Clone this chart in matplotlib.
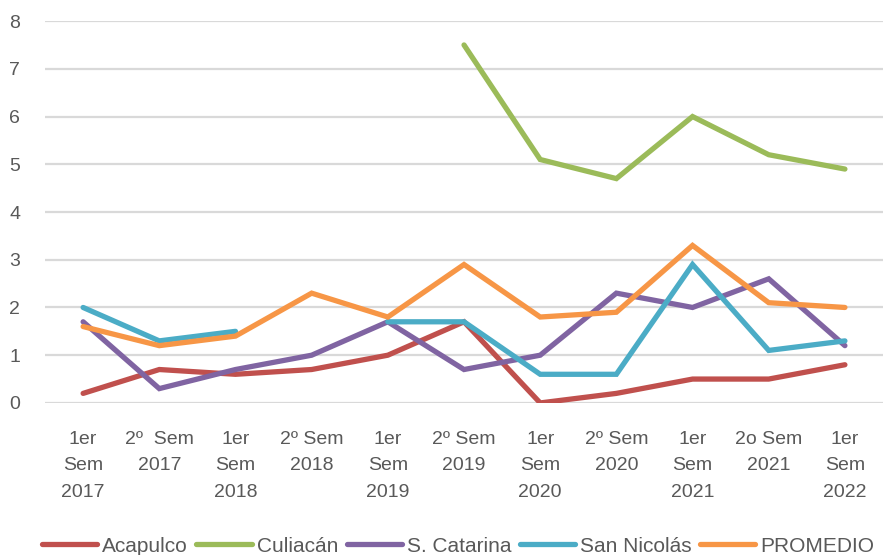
import numpy as np
from matplotlib import pyplot as plt

# Categorias (semestres)
etiquetas = ["1er\nSem\n2017", "2º  Sem\n2017", "1er\nSem\n2018", "2º Sem\n2018",
             "1er\nSem\n2019", "2º Sem\n2019", "1er\nSem\n2020", "2º Sem\n2020",
             "1er\nSem\n2021", "2o Sem\n2021", "1er\nSem\n2022"]

acapulco = [0.2, 0.7, 0.6, 0.7, 1.0, 1.7, 0.0, 0.2, 0.5, 0.5, 0.8]
culiacan = [np.nan, np.nan, np.nan, np.nan, np.nan, 7.5, 5.1, 4.7, 6.0, 5.2, 4.9]
s_catarina = [1.7, 0.3, 0.7, 1.0, 1.7, 0.7, 1.0, 2.3, 2.0, 2.6, 1.2]
san_nicolas = [2.0, 1.3, 1.5, np.nan, 1.7, 1.7, 0.6, 0.6, 2.9, 1.1, 1.3]
promedio = [1.6, 1.2, 1.4, 2.3, 1.8, 2.9, 1.8, 1.9, 3.3, 2.1, 2.0]

series = [("Acapulco", acapulco, "#C0504D"),
          ("Culiacán", culiacan, "#9BBB59"),
          ("S. Catarina", s_catarina, "#8064A2"),
          ("San Nicolás", san_nicolas, "#4BACC6"),
          ("PROMEDIO", promedio, "#F79646")]

plt.rcParams['font.family'] = ['Liberation Sans', 'DejaVu Sans']

fig = plt.figure(figsize=(8.83, 5.55), dpi=100)
ax = fig.add_axes([0.051, 0.274, 0.949, 0.688])

x = np.arange(len(etiquetas))
for nombre, valores, color in series:
    ax.plot(x, valores, color=color, lw=3.8, label=nombre,
            solid_capstyle='round', solid_joinstyle='miter')

ax.set_xlim(-0.5, len(etiquetas) - 0.5)
ax.set_ylim(0, 8)
ax.set_yticks(range(0, 9))
ax.set_xticks(x)
ax.set_xticklabels(etiquetas, fontsize=14, color="#595959", linespacing=1.75)
ax.tick_params(axis='y', labelsize=14, labelcolor="#595959", length=0, pad=18)
ax.tick_params(axis='x', length=0, pad=20)
ax.grid(axis='y', color="#D9D9D9", lw=1.6)
ax.set_axisbelow(True)
for s in ax.spines.values():
    s.set_visible(False)

fig.legend(loc='lower center', bbox_to_anchor=(0.519, -0.035), ncol=5, frameon=False,
           fontsize=15, handlelength=2.65, handletextpad=0.25, columnspacing=0.4,
           labelcolor="#595959")

fig.savefig("out.png", dpi=100)
